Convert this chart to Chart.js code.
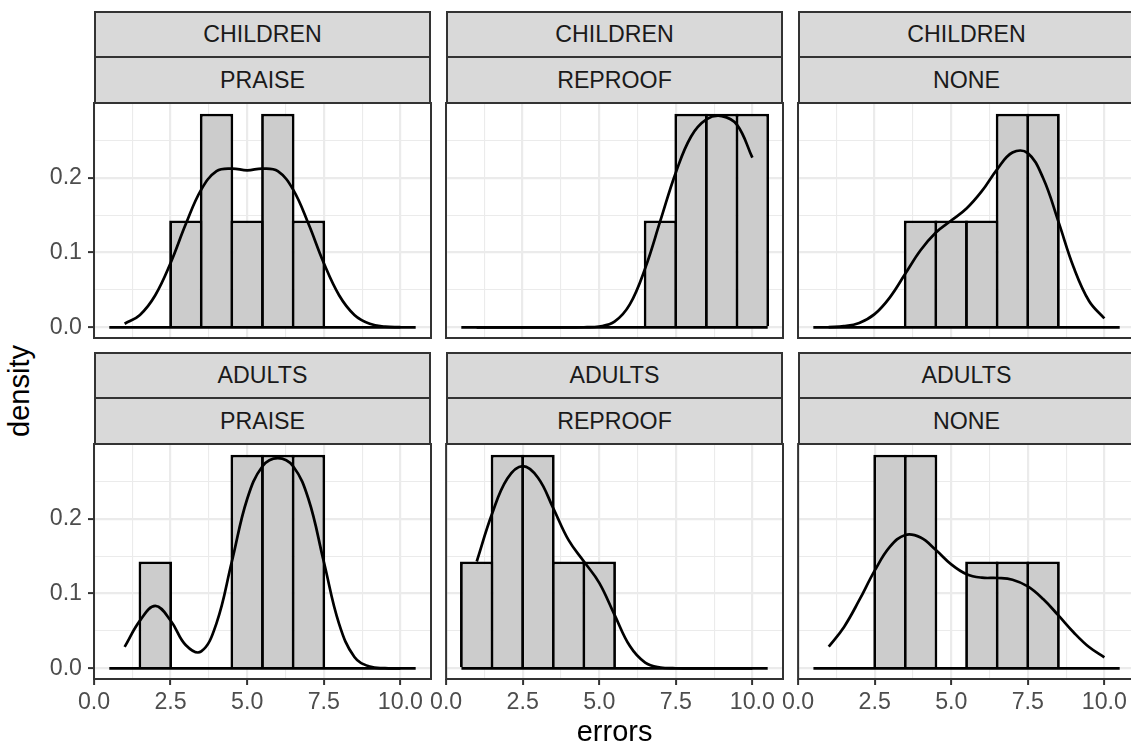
<!DOCTYPE html>
<html>
<head>
<meta charset="utf-8">
<title>errors by age group and treatment</title>
<script src="https://cdn.jsdelivr.net/npm/chart.js@4.4.1/dist/chart.umd.min.js"></script>
<style>
  html, body { margin: 0; padding: 0; background: #ffffff; overflow: hidden; }
  body { position: relative; width: 1131px; height: 747px; font-family: "Liberation Sans", Arial, sans-serif; }
  .panel { position: absolute; }
  .strip { position: absolute; box-sizing: border-box; border: 2px solid #333333; background: #d9d9d9; }
  .strip__row { display: flex; align-items: center; justify-content: center; box-sizing: border-box;
    font-size: 23.2px; color: #1a1a1a; white-space: nowrap; }
  .strip__row--top { height: 45px; border-bottom: 2px solid #333333; }
  .strip__row--bottom { height: 44px; }
  .y-title { position: absolute; left: 19px; top: 391px; font-size: 29px; line-height: 1; color: #000;
    transform: translate(-50%, -50%) rotate(-90deg); white-space: nowrap; }
</style>
</head>
<body>
<div class="y-title">density</div>
<script>
// facets
const ageGroups = ["CHILDREN", "ADULTS"];
const treatments = ["PRAISE", "REPROOF", "NONE"];

// histogram bins (binwidth 1)
const binCenters = [1, 2, 3, 4, 5, 6, 7, 8, 9, 10];
const binWidth = 1;

const histChildrenPraise = [0, 0, 0.1429, 0.2857, 0.1429, 0.2857, 0.1429, 0, 0, 0];
const histChildrenReproof = [0, 0, 0, 0, 0, 0, 0.1429, 0.2857, 0.2857, 0.2857];
const histChildrenNone = [0, 0, 0, 0.1429, 0.1429, 0.1429, 0.2857, 0.2857, 0, 0];
const histAdultsPraise = [0, 0.1429, 0, 0, 0.2857, 0.2857, 0.2857, 0, 0, 0];
const histAdultsReproof = [0.1429, 0.2857, 0.2857, 0.1429, 0.1429, 0, 0, 0, 0, 0];
const histAdultsNone = [0, 0, 0.2857, 0.2857, 0, 0.1429, 0.1429, 0.1429, 0, 0];

// density curves, read at every half error
const densityX = [1, 1.5, 2, 2.5, 3, 3.5, 4, 4.5, 5, 5.5, 6, 6.5, 7, 7.5, 8, 8.5, 9, 9.5, 10];

const densChildrenPraise = [0.0048, 0.0166, 0.0429, 0.0860, 0.1384, 0.1841, 0.2088, 0.2123, 0.2100, 0.2123,
  0.2088, 0.1841, 0.1384, 0.0860, 0.0429, 0.0166, 0.0048, 0.0010, 0.0002];
const densChildrenReproof = [0, 0, 0, 0, 0, 0, 0, 0.0001, 0.0011, 0.0075,
  0.0306, 0.0788, 0.1429, 0.2068, 0.2552, 0.2780, 0.2825, 0.2708, 0.2269];
const densChildrenNone = [0.0003, 0.0015, 0.0059, 0.0176, 0.0401, 0.0715, 0.1030, 0.1268, 0.1428, 0.1589,
  0.1821, 0.2113, 0.2338, 0.2330, 0.1996, 0.1414, 0.0800, 0.0352, 0.0118];
const densAdultsPraise = [0.0286, 0.0638, 0.0835, 0.0640, 0.0309, 0.0226, 0.0605, 0.1429, 0.2264, 0.2703,
  0.2812, 0.2703, 0.2264, 0.1428, 0.0594, 0.0151, 0.0023, 0.0002, 0];
const densAdultsReproof = [0.1429, 0.2066, 0.2538, 0.2704, 0.2549, 0.2140, 0.1714, 0.1428, 0.1143, 0.0715,
  0.0297, 0.0076, 0.0011, 0.0001, 0, 0, 0, 0, 0];
const densAdultsNone = [0.0289, 0.0554, 0.0914, 0.1306, 0.1627, 0.1784, 0.1749, 0.1582, 0.1390, 0.1259,
  0.1212, 0.1208, 0.1185, 0.1095, 0.0927, 0.0707, 0.0479, 0.0284, 0.0147];

// axes
const xMin = 0;
const xMax = 11;
const yMin = -0.0143;
const yMax = 0.3;
const xMajorTicks = [0, 2.5, 5, 7.5, 10];
const xMinorTicks = [1.25, 3.75, 6.25, 8.75];
const yMajorTicks = [0, 0.1, 0.2];
const yMinorTicks = [0.05, 0.15, 0.25];

const histograms = [
  [histChildrenPraise, histChildrenReproof, histChildrenNone],
  [histAdultsPraise, histAdultsReproof, histAdultsNone]
];
const densities = [
  [densChildrenPraise, densChildrenReproof, densChildrenNone],
  [densAdultsPraise, densAdultsReproof, densAdultsNone]
];

// page layout
const colLefts = [94, 446, 798];
const rowTops = [103, 444];
const panelW = 337;
const panelH = 235;
const yAxisW = 94;
const pageH = 747;
const pad = 24;
const barLine = 2.8;

const FONT = "'Liberation Sans', Arial, sans-serif";
const GRID = "#ebebeb";
const INK = "#333333";

Chart.defaults.font.family = FONT;

const panelBorder = {
  id: "panelBorder",
  afterDatasetsDraw(chart) {
    const { ctx, chartArea: a } = chart;
    ctx.save();
    ctx.strokeStyle = INK;
    ctx.lineWidth = 2;
    ctx.strokeRect(a.left, a.top, a.right - a.left, a.bottom - a.top);
    ctx.restore();
  }
};

function makeStrip(row, col) {
  const strip = document.createElement("div");
  strip.className = "strip";
  strip.style.left = colLefts[col] + "px";
  strip.style.top = rowTops[row] - 92 + "px";
  strip.style.width = panelW + "px";
  strip.style.height = "93px";
  strip.innerHTML =
    '<div class="strip__row strip__row--top">' + ageGroups[row] + "</div>" +
    '<div class="strip__row strip__row--bottom">' + treatments[col] + "</div>";
  document.body.appendChild(strip);
}

function gridOptions(minorTicks, showTicks) {
  return {
    color: GRID,
    lineWidth: ctx => (ctx.tick && minorTicks.includes(ctx.tick.value) ? 1.1 : 2.2),
    drawTicks: showTicks,
    tickLength: 6,
    tickWidth: 2,
    tickColor: ctx => (ctx.tick && minorTicks.includes(ctx.tick.value) ? "rgba(0,0,0,0)" : INK),
    offset: false
  };
}

function makePanel(row, col) {
  const showY = col === 0;
  const showX = row === 1;
  const leftW = showY ? yAxisW : 20;
  const bottomH = showX ? pageH - (rowTops[row] + panelH) : pad;

  const box = document.createElement("div");
  box.className = "panel";
  box.style.left = colLefts[col] - leftW + "px";
  box.style.top = rowTops[row] - pad + "px";
  box.style.width = leftW + panelW + 30 + "px";
  box.style.height = pad + panelH + bottomH + "px";
  const canvas = document.createElement("canvas");
  box.appendChild(canvas);
  document.body.appendChild(box);

  const hist = histograms[row][col];
  const dens = densities[row][col];
  const pxPerUnit = panelW / (xMax - xMin);

  return new Chart(canvas, {
    type: "bar",
    data: {
      datasets: [
        {
          type: "line",
          data: densityX.map((x, i) => ({ x: x, y: dens[i] })),
          borderColor: "#000000",
          borderWidth: 2.7,
          pointRadius: 0,
          tension: 0.4,
          fill: false,
          order: 0
        },
        {
          type: "line",
          data: [
            { x: binCenters[0] - binWidth / 2, y: 0 },
            { x: binCenters[binCenters.length - 1] + binWidth / 2, y: 0 }
          ],
          borderColor: "#000000",
          borderWidth: barLine,
          pointRadius: 0,
          order: 1
        },
        {
          data: binCenters.map((x, i) => ({ x: x, y: hist[i] })),
          backgroundColor: "#cccccc",
          borderColor: "#000000",
          borderWidth: barLine,
          borderSkipped: "start",
          barPercentage: 1 + barLine / pxPerUnit,
          categoryPercentage: 1,
          order: 2
        }
      ]
    },
    options: {
      responsive: true,
      maintainAspectRatio: false,
      animation: false,
      events: [],
      layout: { padding: { top: pad, right: 30, left: showY ? 0 : 20, bottom: 0 } },
      plugins: { legend: { display: false }, tooltip: { enabled: false } },
      scales: {
        x: {
          type: "linear",
          min: xMin,
          max: xMax,
          offset: false,
          afterBuildTicks: axis => {
            axis.ticks = xMajorTicks.concat(xMinorTicks).sort((a, b) => a - b).map(v => ({ value: v }));
          },
          afterFit: axis => {
            axis.height = bottomH;
          },
          grid: gridOptions(xMinorTicks, showX),
          border: { display: false },
          ticks: {
            display: showX,
            autoSkip: false,
            maxRotation: 0,
            minRotation: 0,
            padding: 4,
            color: "#4d4d4d",
            font: { size: 23.2 },
            callback: v => (xMajorTicks.includes(v) ? v.toFixed(1) : "")
          },
          title: {
            display: showX && col === 1,
            text: "errors",
            color: "#000000",
            font: { size: 29, lineHeight: 1 },
            padding: { top: 0, bottom: 0 }
          }
        },
        y: {
          type: "linear",
          min: yMin,
          max: yMax,
          afterBuildTicks: axis => {
            axis.ticks = yMajorTicks.concat(yMinorTicks).sort((a, b) => a - b).map(v => ({ value: v }));
          },
          afterFit: axis => {
            axis.width = showY ? yAxisW : 0;
          },
          grid: gridOptions(yMinorTicks, showY),
          border: { display: false },
          ticks: {
            display: showY,
            autoSkip: false,
            padding: 6,
            color: "#4d4d4d",
            font: { size: 23.2 },
            callback: v => (yMajorTicks.includes(v) ? v.toFixed(1) : "")
          }
        }
      }
    },
    plugins: [panelBorder]
  });
}

for (let row = 0; row < ageGroups.length; row++) {
  for (let col = 0; col < treatments.length; col++) {
    makeStrip(row, col);
    makePanel(row, col);
  }
}
</script>
</body>
</html>
